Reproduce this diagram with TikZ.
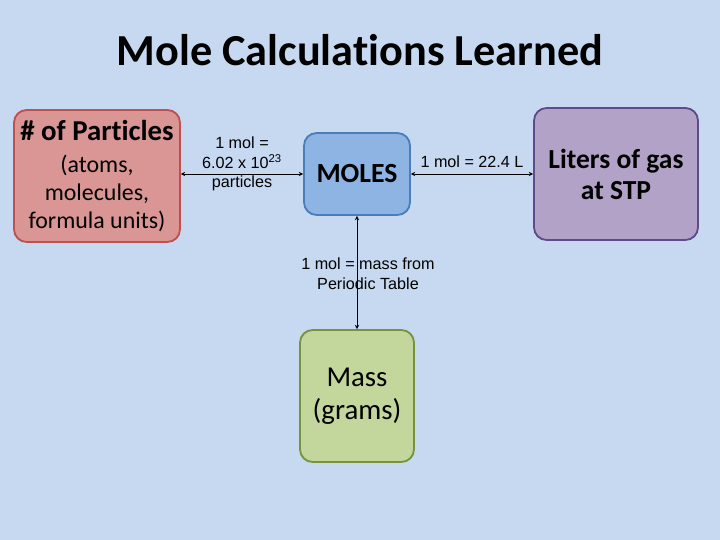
\documentclass[tikz,border=0pt]{standalone}
\usepackage{fontspec}
\setmainfont{Carlito}[Ligatures=NoCommon]
\newfontfamily\labelfont{Liberation Sans}
\usetikzlibrary{arrows.meta}

\definecolor{slidebg}{HTML}{C6D9F1}
\definecolor{redfill}{HTML}{D99694}
\definecolor{redline}{HTML}{C0504D}
\definecolor{bluefill}{HTML}{8EB4E3}
\definecolor{blueline}{HTML}{4A7EBB}
\definecolor{purplefill}{HTML}{B3A2C7}
\definecolor{purpleline}{HTML}{5F4B8B}
\definecolor{greenfill}{HTML}{C3D69B}
\definecolor{greenline}{HTML}{77933C}

\begin{document}
\begin{tikzpicture}[
    box/.style={draw, line width=1.3pt, rounded corners=9pt, align=center, inner sep=2pt},
    conv/.style={align=center, font=\labelfont\fontsize{11.5}{14}\selectfont},
    link/.style={{Stealth[length=3pt,width=3pt]}-{Stealth[length=3pt,width=3pt]}, line width=0.7pt}]
    \fill[slidebg] (0,0) rectangle (18,13.5);
    \useasboundingbox (0,0) rectangle (18,13.5);
    \node at (9,12.25) (title) {\fontsize{31.5}{36}\selectfont\bfseries Mole Calculations Learned};
    \node[box, fill=redfill, draw=redline, minimum width=4.15cm, minimum height=3.3cm,
        font=\fontsize{17}{20}\selectfont] at (2.425,9.1) (part)
        {{\fontsize{20.5}{23}\selectfont\bfseries \# of Particles}\\[3pt](atoms,\\molecules,\\formula units)};
    \node[box, fill=bluefill, draw=blueline, minimum width=2.65cm, minimum height=2.05cm,
        font=\fontsize{19.7}{22}\selectfont\bfseries] at (8.925,9.15) (moles) {MOLES};
    \node[box, fill=purplefill, draw=purpleline, minimum width=4.1cm, minimum height=3.3cm,
        font=\fontsize{19.6}{22}\selectfont\bfseries] at (15.4,9.15) (gas) {Liters of gas\\at STP};
    \node[box, fill=greenfill, draw=greenline, minimum width=2.85cm, minimum height=3.3cm,
        font=\fontsize{20.5}{23.4}\selectfont] at (8.925,3.6) (mass) {Mass\\(grams)};
    \draw[link] (part.east |- moles) -- (moles);
    \draw[link] (moles) -- (gas);
    \draw[link] (moles) -- (mass);
    \node[conv] at (6.05,9.4) (l1) {1 mol =\\6.02 x 10\textsuperscript{23}\\particles};
    \node[conv] at (11.8,9.45) (l2) {1 mol = 22.4 L};
    \node[conv] at (9.2,6.65) (l3) {1 mol = mass from\\Periodic Table};
\end{tikzpicture}
\end{document}
